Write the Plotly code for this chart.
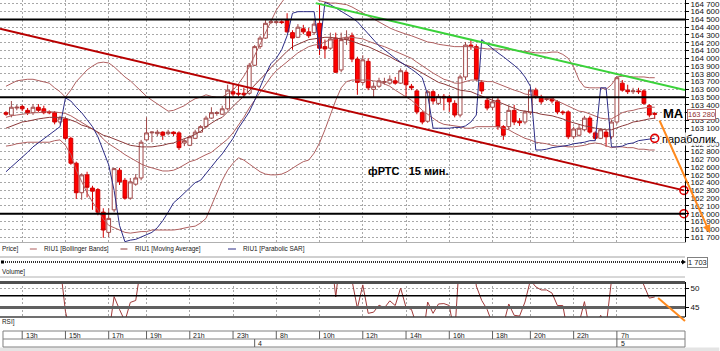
import plotly.graph_objects as go

W, H, PR = 720, 351, 688

candle_idx = list(range(121))
open_p = [163300,163270,163360,163380,163330,163300,163370,163350,163310,163300,
          163180,163220,162970,162650,162270,162500,162330,162310,162020,161760,
          162050,162560,162430,162200,162380,162460,162950,163040,163030,163050,
          163030,163050,163040,162910,162880,162970,163050,163120,163230,163290,
          163280,163350,163570,163550,163550,163550,163910,164150,164260,164460,
          164460,164470,164490,164330,164270,164380,164340,164330,164450,164150,
          164130,164260,163850,164240,164290,163990,163690,163960,163600,163640,
          163690,163680,163710,163680,163820,163640,163580,163300,163190,163570,
          163420,163510,163500,163420,163270,163760,164170,164150,163690,163460,
          163370,163460,163120,163120,163330,163190,163180,163300,163590,163500,
          163470,163480,163440,163310,163310,162990,163010,163080,163230,163040,
          162970,163050,162990,163180,163680,163590,163570,163580,163580,163390,
          163290]
high_p = [163320,163450,163400,163400,163360,163410,163410,163390,163330,163320,
          163260,163240,162990,162670,162520,162540,162360,162330,162070,162070,
          162590,162590,162460,162460,162510,162950,163240,163060,163080,163060,
          163080,163060,163060,162960,163010,163080,163140,163260,163370,163320,
          163390,163660,163670,163660,163620,163940,164170,164290,164490,164490,
          164490,164490,164580,164360,164440,164430,164390,164490,164690,164240,
          164330,164330,164330,164360,164330,164020,164040,164000,163690,163750,
          163750,163780,163760,163870,163850,163670,163600,163320,163590,163590,
          163540,163540,163530,163460,163790,164210,164250,164180,163720,163500,
          163490,163500,163140,163390,163400,163230,163330,163620,163620,163530,
          163500,163500,163460,163330,163330,163120,163150,163260,163260,163060,
          163100,163080,163210,163770,163720,163660,163620,163620,163600,163410,
          163310]
low_p = [163260,163240,163330,163320,163270,163270,163310,163280,163280,163150,
         163150,162950,162630,162190,162180,162210,162050,161980,161690,161700,
         162020,162370,162180,162180,162360,162430,162940,162920,163000,162950,
         163010,163000,162820,162870,162870,162960,163040,163100,163220,163260,
         163270,163330,163510,163510,163500,163530,163900,164120,164250,164440,
         164440,164440,164330,164110,164260,164310,164260,164300,164040,164000,
         164110,163810,163820,164170,163950,163530,163660,163590,163500,163620,
         163660,163660,163660,163670,163490,163590,163280,163150,163170,163410,
         163400,163330,163310,163240,163240,163720,164110,163710,163540,163330,
         163330,163080,162950,163080,163140,163130,163150,163270,163480,163410,
         163450,163420,163280,163270,162960,162960,162990,163060,163030,162950,
         162960,162860,162960,163150,163570,163540,163540,163540,163400,163240,
         163220]
close_p = [163280,163370,163370,163350,163300,163370,163330,163300,163300,163180,
           163230,162970,162650,162270,162500,162340,162290,162020,161790,161940,
           162580,162410,162200,162410,162460,162920,163040,163050,163050,163010,
           163050,163030,162850,162940,162990,163050,163120,163230,163300,163300,
           163350,163590,163540,163540,163530,163910,164150,164260,164450,164470,
           164470,164460,164340,164260,164400,164340,164290,164440,164130,164120,
           164250,163820,164240,164270,163990,163690,163980,163620,163640,163710,
           163700,163730,163680,163840,163660,163620,163310,163180,163570,163450,
           163510,163490,163440,163270,163760,164170,164150,163730,163580,163360,
           163440,163120,163010,163330,163180,163170,163310,163590,163500,163440,
           163480,163450,163310,163300,162990,163090,163100,163230,163050,162970,
           163080,162990,163180,163750,163590,163570,163580,163570,163420,163270,
           163280]

bb_upper = [163640,163680,163710,163720,163730,163730,163710,163700,163680,163620,
            163570,163500,163590,163700,163770,163850,163900,163940,163950,163940,
            163890,163820,163760,163710,163640,163580,163510,163460,163410,163360,
            163320,163330,163360,163390,163440,163480,163500,163530,163510,163500,
            163500,163540,163590,163670,163770,163890,164040,164180,164340,164490,
            164620,164720,164810,164830,164830,164810,164800,164780,164740,164720,
            164710,164710,164700,164690,164660,164620,164580,164540,164500,164470,
            164430,164390,164360,164340,164310,164290,164260,164240,164210,164200,
            164180,164170,164160,164150,164150,164150,164150,164130,164130,164120,
            164120,164120,164110,164110,164110,164090,164090,164080,164070,164070,
            164070,164080,164080,164050,164000,163890,163720,163630,163620,163620,
            163620,163600,163660,163760,163770,163770,163760,163760,163760,163750,
            163750]
bb_mid = [163240,163260,163270,163280,163290,163300,163300,163310,163310,163310,
          163300,163290,163260,163220,163180,163140,163090,163040,162960,162900,
          162860,162810,162760,162720,162670,162640,162610,162590,162570,162550,
          162550,162560,162590,162630,162670,162690,162730,162760,162790,162850,
          162900,162960,163040,163140,163240,163360,163460,163570,163670,163760,
          163840,163900,163960,164020,164070,164110,164150,164170,164180,164210,
          164240,164250,164260,164270,164270,164260,164250,164220,164200,164170,
          164150,164120,164090,164070,164040,164000,163950,163900,163850,163810,
          163770,163730,163710,163680,163680,163700,163720,163720,163710,163700,
          163700,163670,163640,163620,163590,163570,163540,163530,163510,163500,
          163490,163480,163450,163420,163390,163350,163320,163310,163280,163260,
          163230,163220,163220,163260,163300,163320,163330,163350,163360,163370,
          163370]
bb_lower = [162870,162880,162900,162910,162920,162920,162920,162920,162920,162940,
            162950,162880,162760,162560,162410,162270,162150,162050,161930,161850,
            161820,161790,161760,161750,161760,161770,161770,161790,161790,161790,
            161790,161790,161800,161820,161830,161840,161880,161940,162110,162270,
            162430,162560,162650,162720,162690,162640,162590,162540,162510,162500,
            162500,162510,162540,162590,162630,162670,162690,162780,162910,163080,
            163270,163460,163620,163700,163720,163720,163720,163720,163710,163700,
            163670,163640,163590,163550,163510,163460,163400,163330,163280,163230,
            163180,163150,163140,163130,163120,163100,163100,163120,163120,163120,
            163120,163120,163100,163080,163040,163000,162970,162950,162920,162910,
            162900,162880,162870,162870,162860,162860,162870,162880,162900,162910,
            162900,162870,162850,162860,162860,162850,162850,162830,162830,162820,
            162820]
ma_line = [163100,163130,163150,163180,163190,163210,163220,163230,163240,163240,
           163240,163230,163210,163180,163140,163120,163090,163050,163010,162990,
           162960,162940,162910,162880,162870,162860,162860,162860,162870,162880,
           162900,162910,162940,162960,162990,163020,163060,163120,163170,163210,
           163240,163310,163390,163450,163510,163580,163660,163720,163800,163880,
           163950,164030,164090,164150,164180,164210,164240,164250,164260,164270,
           164270,164260,164250,164240,164220,164200,164170,164150,164120,164090,
           164050,164020,163980,163940,163910,163890,163850,163810,163770,163730,
           163690,163670,163640,163620,163590,163580,163570,163540,163510,163490,
           163460,163440,163410,163390,163360,163330,163320,163310,163300,163280,
           163270,163260,163240,163220,163190,163170,163140,163130,163120,163100,
           163090,163080,163080,163100,163130,163150,163180,163190,163210,163220,
           163230]
sar = [162540,162600,162670,162730,162790,162860,162910,162960,163010,163060,
       163120,163490,163450,163370,163300,163210,163120,162990,162820,162630,
       162300,161850,161640,161660,161670,161700,161730,161760,161820,161910,
       162020,162140,162200,162270,162340,162400,162430,162520,162610,162690,
       162770,162870,162970,163100,163210,163310,163460,163630,163790,163930,
       164000,164110,164290,164580,164600,164600,164600,164600,164110,164720,
       164690,164650,164610,164570,164520,164470,164390,164310,164240,164160,
       164110,164050,164000,163950,163910,163860,163810,163750,163530,163100,
       163100,163100,163100,163110,163110,163130,163180,163270,164240,164180,
       164120,164070,164020,163970,163910,163850,163760,163640,162820,162820,
       162830,162850,162860,162870,162880,162900,162910,162920,162940,162940,
       163620,163620,162860,162860,162870,162900,162910,162940,162950,162960,
       162970]
rsi = [56,57,56,58,57,58,57,57,56,56,
       56,44,38,36,37,36,35,34,33,38,
       47.8,44.5,41.5,46.3,46.8,56,58,58,58,57,
       58,57,55,56,57,58,59,60,61,61,
       61,63,62,62,61,65,67,68,70,70,
       70,69,65,62,63,62,61,63,58,58,
       60,47.7,60,58,52,44.8,50.8,43.5,43.8,45.6,
       44.9,46.7,45.5,50,45,44.5,38,36,46.4,43.5,
       45.9,46,45.5,38,60,66,64,50.5,46.8,44.5,
       40,37,40.5,45.9,43,42.8,46.4,52,50.3,49.5,
       49.5,48.7,45.5,45.5,38,39,41,46.5,39,40,
       43,40,52,60,57,57,56,54,50.5,47.4,
       47.7]

tick_idx = [3, 11, 19, 26, 34, 42, 50, 58, 66, 74, 82, 90, 97, 105, 113]
tick_text = ["13h", "15h", "17h", "19h", "21h", "23h", "8h", "10h", "12h",
             "14h", "16h", "18h", "20h", "22h", "7h"]
day_idx = [46, 113]
day_text = ["4", "5"]
price_ticks = list(range(161700, 164701, 100))
hidden_price_labels = [163300, 163000]   # covered by the price box / note in the original
level_lines = [164500, 163500, 162000]
red_trend_x, red_trend_y = [-1.1, 125.4], [164380, 162300]
green_trend_x, green_trend_y = [57.3, 125.6], [164710, 163590]
target_x, target_y = [125.4, 125.4], [162300, 162000]
rsi_black_level, rsi_gray_level = 48, 45
volume_last = 1703

X_RANGE = [-1.105, 125.6]
FONT = "Liberation Sans, Arial"


def py(px):
    return 1 - px / H


def pxx(px):
    return px / PR


def fmt(v):
    return f"{v:,}".replace(",", " ")


fig = go.Figure()
BB_C, MA_C, SAR_C = "#b06060", "#8c3a3a", "#2c2c86"
for ser, col in [(bb_upper, BB_C), (bb_mid, BB_C), (bb_lower, BB_C), (ma_line, MA_C), (sar, SAR_C)]:
    fig.add_trace(go.Scatter(x=candle_idx, y=ser, mode="lines", line=dict(color=col, width=1),
                             hoverinfo="skip"))
fig.add_trace(go.Candlestick(x=candle_idx, open=open_p, high=high_p, low=low_p, close=close_p,
                             increasing=dict(line=dict(color="#a04848", width=1), fillcolor="#ffffff"),
                             decreasing=dict(line=dict(color="#d00000", width=1), fillcolor="#ff0000"),
                             whiskerwidth=0, hoverinfo="skip"))
fig.add_trace(go.Scatter(x=red_trend_x, y=red_trend_y, mode="lines",
                         line=dict(color="#b80000", width=2), hoverinfo="skip"))
fig.add_trace(go.Scatter(x=green_trend_x, y=green_trend_y, mode="lines",
                         line=dict(color="#3ad23a", width=2), hoverinfo="skip"))
fig.add_trace(go.Scatter(x=target_x + [candle_idx[-1]], y=target_y + [sar[-1]], mode="markers",
                         marker=dict(symbol="circle-open", size=8, color="#e00000", line=dict(width=1.6)),
                         cliponaxis=False, hoverinfo="skip"))
fig.add_trace(go.Scatter(x=candle_idx, y=rsi, mode="lines", xaxis="x2", yaxis="y2",
                         line=dict(color="#a03a3a", width=1), hoverinfo="skip"))

GRID = dict(showgrid=True, gridcolor="#a8a8a8", griddash="2px,2px", gridwidth=1, zeroline=False)

fig.update_layout(
    width=W, height=H, margin=dict(l=0, r=W - PR, t=0, b=0),
    paper_bgcolor="white", plot_bgcolor="white", showlegend=False,
    font=dict(family=FONT, size=8, color="#202020"),
    boxgap=0.3, boxgroupgap=0,
    xaxis=dict(domain=[0, 1], range=X_RANGE, anchor="y", tickvals=tick_idx, showticklabels=False,
               ticks="", showline=True, linecolor="#b0b0b0", rangeslider=dict(visible=False), **GRID),
    yaxis=dict(domain=[py(242), 1], range=[161636, 164750], side="right", anchor="x",
               tickvals=price_ticks,
               ticktext=["" if v in hidden_price_labels else fmt(v) for v in price_ticks],
               ticks="outside", ticklen=3, tickcolor="black", showline=True, linecolor="black",
               ticklabeloverflow="allow", tickfont=dict(size=8, color="#101010"), **GRID),
    xaxis2=dict(domain=[0, 1], range=X_RANGE, anchor="y2", tickvals=tick_idx, showticklabels=False,
                ticks="", showline=False, **GRID),
    yaxis2=dict(domain=[py(317), py(282)], range=[42.56, 51.54], side="right", anchor="x2",
                tickvals=[45, 50], ticks="outside", ticklen=3, tickcolor="black", showline=True,
                linecolor="black", ticklabeloverflow="allow", tickfont=dict(size=8, color="#101010"), **GRID),
)

shapes = []
for lv in level_lines:
    shapes.append(dict(type="line", xref="x domain", yref="y", x0=0, x1=1, y0=lv, y1=lv,
                       line=dict(color="black", width=2)))
for ypx_, col in [(257, "#a0a0a0"), (277, "#b0b0b0")]:
    shapes.append(dict(type="line", xref="paper", yref="paper", x0=0, x1=1, y0=py(ypx_), y1=py(ypx_),
                       line=dict(color=col, width=1)))
# volume strip
shapes.append(dict(type="line", xref="paper", yref="paper", x0=pxx(3), x1=pxx(686), y0=py(262), y1=py(262),
                   line=dict(color="#303030", width=2, dash="1px,1px")))
shapes.append(dict(type="rect", xref="paper", yref="paper", x0=pxx(1), x1=pxx(4), y0=py(263.5), y1=py(260.5),
                   fillcolor="black", line=dict(width=0)))
shapes.append(dict(type="path", xref="paper", yref="paper",
                   path=f"M {pxx(685)} {py(259.5)} L {pxx(689)} {py(262)} L {pxx(685)} {py(264.5)} Z",
                   fillcolor="black", line=dict(width=0)))
# RSI levels and borders
shapes.append(dict(type="line", xref="paper", yref="paper", x0=0, x1=1, y0=py(282.5), y1=py(282.5),
                   line=dict(color="#505050", width=3)))
shapes.append(dict(type="line", xref="paper", yref="paper", x0=0, x1=1, y0=py(317), y1=py(317),
                   line=dict(color="#404040", width=1.5)))
shapes.append(dict(type="line", xref="x2 domain", yref="y2", x0=0, x1=1, y0=rsi_black_level,
                   y1=rsi_black_level, line=dict(color="black", width=1.6)))
shapes.append(dict(type="line", xref="x2 domain", yref="y2", x0=0, x1=1, y0=rsi_gray_level,
                   y1=rsi_gray_level, line=dict(color="#606060", width=3)))
shapes.append(dict(type="line", xref="paper", yref="paper", x0=pxx(661), y0=py(298), x1=pxx(688), y1=py(321),
                   line=dict(color="#ff8a1e", width=2)))
# time axis box
shapes.append(dict(type="rect", xref="paper", yref="paper", x0=pxx(3), x1=1, y0=py(347), y1=py(331),
                   line=dict(color="#808080", width=1)))
shapes.append(dict(type="line", xref="paper", yref="paper", x0=pxx(3), x1=1, y0=py(339), y1=py(339),
                   line=dict(color="#808080", width=1)))
for t in tick_idx:
    shapes.append(dict(type="line", xref="x2", yref="paper", x0=t, x1=t, y0=py(339), y1=py(331),
                       line=dict(color="#606060", width=1)))
for d in day_idx:
    shapes.append(dict(type="line", xref="x2", yref="paper", x0=d, x1=d, y0=py(347), y1=py(339),
                       line=dict(color="#606060", width=1)))
shapes.append(dict(type="rect", xref="paper", yref="paper", x0=-0.01, x1=1.05, y0=0, y1=py(347.5),
                   fillcolor="#e4e4e4", line=dict(width=0), layer="below"))

ann = []


def txt(x, y, s, size=8, color="#202020", anchor="left", bold=False, xref="paper", yref="paper",
        family=FONT, **kw):
    ann.append(dict(x=x, y=y, xref=xref, yref=yref, text=f"<b>{s}</b>" if bold else s, showarrow=False,
                    xanchor=anchor, yanchor="middle", font=dict(size=size, color=color, family=family),
                    **kw))


LEG = 6.4
txt(0, py(249), "Price]", size=LEG)
for x0, x1, col, xt, label in [(30, 37, BB_C, 42, "RIU1 [Bollinger Bands]"),
                               (121, 128, MA_C, 134, "RIU1 [Moving Average]"),
                               (229, 237, SAR_C, 242, "RIU1 [Parabolic SAR]")]:
    shapes.append(dict(type="line", xref="paper", yref="paper", x0=pxx(x0), x1=pxx(x1), y0=py(249), y1=py(249),
                       line=dict(color=col, width=1)))
    txt(pxx(xt), py(249), label, size=LEG)
txt(0, py(272), "Volume]", size=LEG)
txt(0, py(322), "RSI]", size=LEG)
for t, s in zip(tick_idx, tick_text):
    txt(t + 0.3, py(335.5), s, xref="x2", size=7)
for d, s in zip(day_idx, day_text):
    txt(d + 0.3, py(343.5), s, xref="x2", size=7)
txt(pxx(690), py(262.5), fmt(volume_last), size=7.5, bordercolor="#808080", borderwidth=1, borderpad=0,
    bgcolor="white")
txt(pxx(690), close_p[-1], fmt(close_p[-1]), size=7.5, color="#903030", yref="y", bordercolor="#b07070",
    borderwidth=1, borderpad=0, bgcolor="white")
txt(pxx(664), py(114), "MA", size=13, color="#000000", bold=True)
txt(pxx(664), py(139.5), "параболик", size=11, color="#000000", bgcolor="rgba(255,255,255,0.85)", borderpad=0)
txt(pxx(368), py(171), "фРТС&nbsp;&nbsp;&nbsp;15 мин.", size=11, color="#000000", bold=True)
ann.append(dict(x=pxx(713), y=py(233), xref="paper", yref="paper", ax=-51, ay=-114, text="",
                showarrow=True, arrowhead=2, arrowsize=0.8, arrowwidth=2, arrowcolor="#ff8a1e", standoff=0))

fig.update_layout(shapes=shapes, annotations=ann)
fig.write_html("out.html")
